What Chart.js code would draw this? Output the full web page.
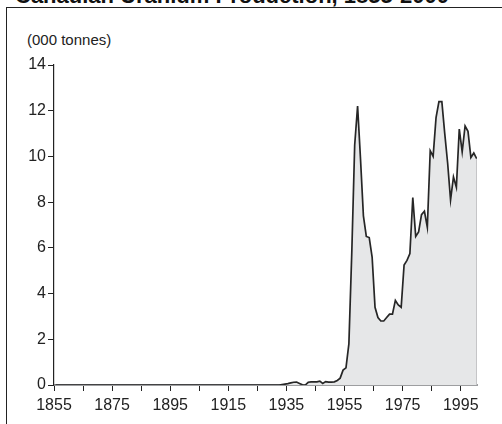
<!DOCTYPE html>
<html>
<head>
<meta charset="utf-8">
<script src="https://cdn.jsdelivr.net/npm/chart.js@4"></script>
<style>
  html,body{margin:0;padding:0;background:#fff;}
  body{width:502px;height:424px;overflow:hidden;position:relative;font-family:"Liberation Sans",Arial,sans-serif;}
  #title{position:absolute;left:15px;top:-15px;font-weight:bold;font-size:22px;line-height:22px;white-space:nowrap;color:#111;}
  #frame{position:absolute;left:6px;top:7px;width:700px;height:700px;border:1.5px solid #222;box-sizing:border-box;}
  #unit{position:absolute;left:27px;top:32px;font-size:15px;line-height:15px;color:#222;white-space:nowrap;}
  #c{position:absolute;left:0;top:0;}
</style>
</head>
<body>
<div id="title">Canadian Uranium Production, 1855-2000</div>
<div id="frame"></div>
<div id="unit">(000 tonnes)</div>
<canvas id="c" width="502" height="424"></canvas>
<script>
// Years 1855..2000 (annual)
const firstYear = 1855;
const lastYear = 2000;
const years = [];
for (let y = firstYear; y <= lastYear; y++) years.push(y);

// Production, thousand tonnes of uranium, one value per year from 1855 to 2000
const production = [
  // 1855-1864
  0,0,0,0,0,0,0,0,0,0,
  // 1865-1874
  0,0,0,0,0,0,0,0,0,0,
  // 1875-1884
  0,0,0,0,0,0,0,0,0,0,
  // 1885-1894
  0,0,0,0,0,0,0,0,0,0,
  // 1895-1904
  0,0,0,0,0,0,0,0,0,0,
  // 1905-1914
  0,0,0,0,0,0,0,0,0,0,
  // 1915-1924
  0,0,0,0,0,0,0,0,0,0,
  // 1925-1934
  0,0,0,0,0,0,0,0,0.02,0.04,
  // 1935-1944
  0.06,0.09,0.12,0.13,0.07,0.01,0.0,0.12,0.14,0.14,
  // 1945-1954
  0.14,0.17,0.07,0.15,0.13,0.13,0.14,0.2,0.3,0.65,
  // 1955-1964
  0.75,1.8,5.8,10.5,12.2,9.9,7.4,6.5,6.45,5.6,
  // 1965-1974
  3.4,2.95,2.8,2.8,2.95,3.1,3.1,3.7,3.5,3.4,
  // 1975-1984
  5.25,5.45,5.75,8.2,6.5,6.7,7.45,7.6,6.9,10.25,
  // 1985-1994
  10.0,11.7,12.4,12.4,11.0,9.7,8.1,9.1,8.65,11.2,
  // 1995-2000
  10.2,11.33,11.1,9.95,10.15,9.9
];

const xTickValues = [1855,1865,1875,1885,1895,1905,1915,1925,1935,1945,1955,1965,1975,1985,1995];
const xTickLabels = ['1855','','1875','','1895','','1915','','1935','','1955','','1975','','1995'];
const yMin = 0, yMax = 14, yStep = 2;

// annual values plotted at mid-year
const points = years.map((y, i) => ({ x: y + 0.5, y: production[i] }));
const lastPt = points[points.length - 1];
const edge = [{ x: lastPt.x, y: 0 }, { x: lastPt.x, y: lastPt.y }];

const font = { family: "'Liberation Sans', Arial, sans-serif", size: 16 };

new Chart(document.getElementById('c'), {
  type: 'line',
  data: {
    datasets: [
      {
        data: edge,
        borderColor: '#a3a4a6',
        borderWidth: 2,
        pointRadius: 0,
        fill: false,
        order: 1
      },
      {
        data: points,
        borderColor: '#262626',
        borderWidth: 1.7,
        backgroundColor: '#e6e7e8',
        fill: 'origin',
        pointRadius: 0,
        tension: 0,
        order: 0
      }
    ]
  },
  options: {
    responsive: false,
    animation: false,
    devicePixelRatio: 1,
    layout: { padding: { top: 65, right: 25, left: 0, bottom: 0 } },
    plugins: { legend: { display: false }, tooltip: { enabled: false }, title: { display: false } },
    scales: {
      x: {
        type: 'linear',
        min: firstYear,
        max: lastYear + 0.6,
        afterBuildTicks: (s) => { s.ticks = xTickValues.map(v => ({ value: v })); },
        afterFit: (s) => { s.height = 39; },
        ticks: {
          autoSkip: false,
          maxRotation: 0,
          color: '#222',
          font: font,
          padding: 5,
          callback: (v) => { const i = xTickValues.indexOf(v); return i >= 0 ? xTickLabels[i] : ''; }
        },
        grid: { drawOnChartArea: false, drawTicks: true, tickLength: 6, color: '#222', lineWidth: 1 },
        border: { color: '#9d9ea0', width: 2 }
      },
      y: {
        min: yMin,
        max: yMax,
        afterFit: (s) => { s.width = 54; },
        ticks: { stepSize: yStep, color: '#222', font: font, padding: 2 },
        grid: { drawOnChartArea: false, drawTicks: true, tickLength: 6, color: '#222', lineWidth: 1 },
        border: { color: '#222', width: 1.2 }
      }
    }
  }
});
</script>
</body>
</html>
